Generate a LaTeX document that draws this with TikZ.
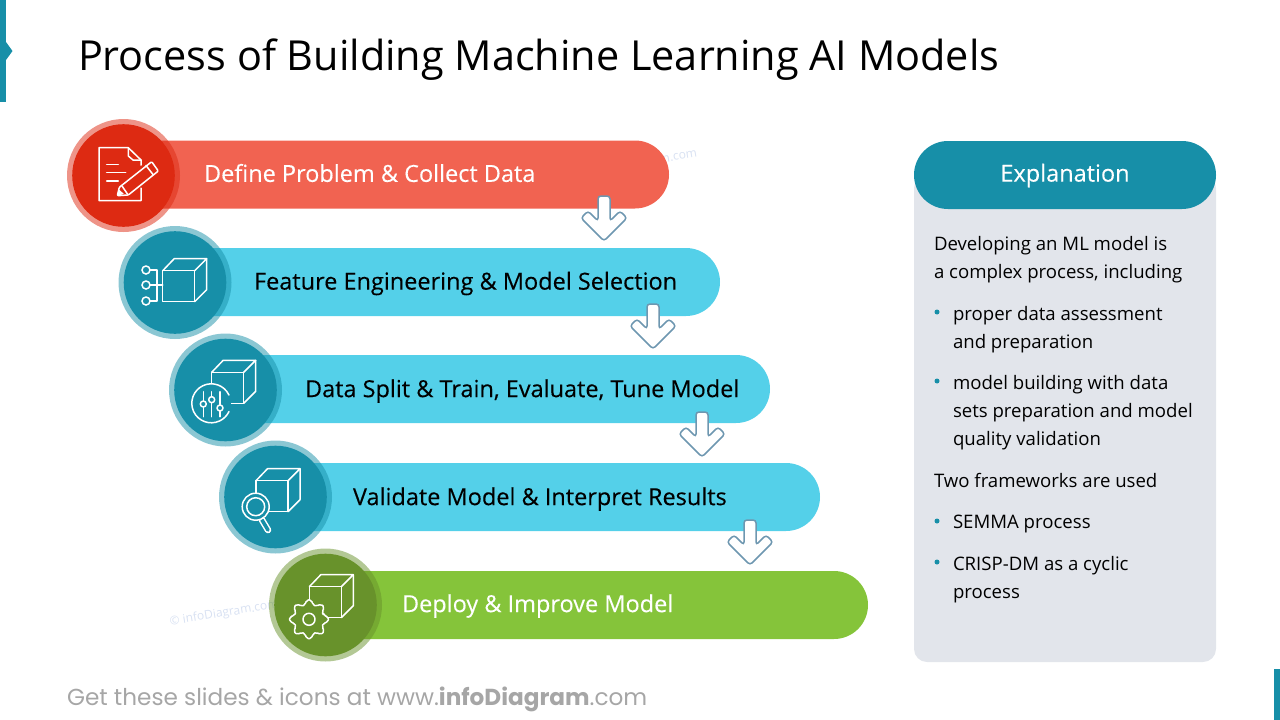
\documentclass[tikz,border=0pt]{standalone}
\usepackage{fontspec}
\setmainfont{Open Sans}
\newfontfamily\footerfont{Poppins}
\newfontfamily\barfont[FakeBold=0.2]{Open Sans}
\usetikzlibrary{positioning, calc}
\definecolor{teal1}{RGB}{23,143,168}
\definecolor{cyan1}{RGB}{84,208,233}
\definecolor{red1}{RGB}{221,42,18}
\definecolor{rose1}{RGB}{241,99,81}
\definecolor{green1}{RGB}{104,146,43}
\definecolor{lime1}{RGB}{133,196,58}
\definecolor{panel1}{RGB}{226,229,235}
\definecolor{steel1}{RGB}{110,151,176}
\definecolor{mark1}{RGB}{216,225,242}
\definecolor{foot1}{RGB}{166,166,166}
\tikzset{
  icon/.style={draw=white, line width=1.5pt, line join=round, line cap=round},
  arrowdown/.pic={
    \draw[draw=steel1, fill=white, line width=1.5pt, rounded corners=3pt]
      (0,0) -- (-23,-23) -- (-16,-30) -- (-6,-20) -- (-6,-45) -- (6,-45)
      -- (6,-20) -- (16,-30) -- (23,-23) -- cycle;
  },
  cube/.pic={
    \draw[icon] (0,0) rectangle (32,31);
    \draw[icon] (0,0) -- (11.5,-12) -- (44,-12) -- (32,0);
    \draw[icon] (44,-12) -- (44,19) -- (32,31);
  },
}

\begin{document}
\begin{tikzpicture}[
    x=1pt, y=-1pt,
    every node/.style={inner sep=0pt, outer sep=0pt},
    barbox/.style={rectangle, rounded corners=34pt, minimum height=68pt},
    barlabel/.style={anchor=west, font=\barfont\fontsize{23.5}{28}\selectfont},
    bodytext/.style={anchor=north west, align=left, font=\fontsize{18.6}{28.4}\selectfont},
    dot/.style={circle, fill=teal1, minimum size=5pt},
    watermark/.style={text=mark1, rotate=9, font=\fontsize{12}{14}\selectfont},
]
\useasboundingbox (0,0) rectangle (1280,720);

% side tabs
\fill[teal1] (0,0) rectangle (6,102);
\fill[teal1] (6,42) -- (12.5,51) -- (6,60) -- cycle;
\fill[teal1] (1274,669) rectangle (1280,720);

\node[anchor=base west, font=\fontsize{41.4}{48}\selectfont] (title) at (78,70)
  {Process of Building Machine Learning AI Models};

% watermarks go under the bars
\node[watermark, anchor=east] (mark1) at (697,154) {© infoDiagram.com};
\node[watermark, anchor=west] (mark2) at (170,622) {© infoDiagram.com};

% bars and discs
\foreach \i/\bx/\by/\bw/\barcol/\dx/\dy/\disccol in {
    1/396/174.5/546/rose1/123.5/175.5/red1,
    2/447.5/282/545/cyan1/175/282.5/teal1,
    3/497.5/389/545/cyan1/225.5/390/teal1,
    4/547.5/497/545/cyan1/275.5/497/teal1,
    5/596.5/605/543/lime1/325.5/605/green1} {
    \node[barbox, fill=\barcol, minimum width=\bw pt, name=bar\i] at (\bx,\by) {};
    \node[circle, fill=\disccol, fill opacity=0.5, minimum size=113pt, name=ring\i] at (\dx,\dy) {};
    \node[circle, fill=\disccol, minimum size=102.6pt, name=disc\i] at (\dx,\dy) {};
}

% arrows between the bars
\foreach \i/\ax/\ay in {1/604/241, 2/653/349, 3/702/457, 4/750/565} {
    \pic at (\ax,\ay) {arrowdown};
}

\node[barlabel, text=white] (label1) at (204,173) {Define Problem \& Collect Data};
\node[barlabel] (label2) at (254,283.5) {Feature Engineering \& Model Selection};
\node[barlabel] (label3) at (305,391) {Data Split \& Train, Evaluate, Tune Model};
\node[barlabel] (label4) at (353,499) {Validate Model \& Interpret Results};
\node[barlabel, text=white] (label5) at (402,606) {Deploy \& Improve Model};

% document icon
\draw[icon] (141,165) -- (141,160) -- (128.3,147.7) -- (99,147.7) -- (99,200.7) -- (141,200.7) -- (141,188);
\draw[icon] (128.3,147.7) -- (128.3,156) -- (133,160) -- (141,160);
\draw[icon] (106.7,164.3) -- (118.3,164.3);
\draw[icon] (106.7,172.7) -- (125.7,172.7);
\draw[icon] (106.7,181) -- (118.3,181);
\draw[icon, fill=red1, rounded corners=1pt] (117.3,195.7) -- (119.3,187.3) -- (151.7,161.7) -- (158.3,171) -- (128.3,195) -- cycle;
\draw[icon] (146,165.5) -- (153,174.5);
\draw[icon] (122,186) -- (127.5,194);
\fill[white] (117.3,195.7) -- (119,189.5) -- (124,194) -- cycle;

% network icon
\pic at (162.7,270.7) {cube};
\foreach \j/\ny in {1/270, 2/285, 3/301} {
    \node[circle, draw=white, line width=1.5pt, minimum size=8pt, name=port\j] at (146,\ny) {};
}
\draw[icon] (port1) -- (157,270) -- (157,301) -- (port3);
\draw[icon] (port2) -- (162.7,285);

% dial icon
\pic at (211.7,372.3) {cube};
\fill[teal1] (211.3,403.3) circle (19.5);
\draw[icon] (211.3,403.3) ++(-25:19.5) arc (-25:-335:19.5);
\foreach \j/\sx/\sy in {1/203.3/404, 2/211.7/399.7, 3/220/408} {
    \draw[icon] (\sx,391.7) -- (\sx,416.7);
    \draw[icon, fill=teal1] (\sx,\sy) circle (3);
}

% magnifier icon
\pic at (256,480.7) {cube};
\draw[icon, double=teal1, double distance=3.6pt] (262,520) -- (268,530);
\draw[icon, fill=teal1] (255.7,506.7) circle (13.5);
\draw[icon] (255.7,506.7) circle (9);

% gear icon
\pic at (309.3,586.7) {cube};
\draw[icon, fill=green1, rounded corners=2pt] (309,619.3) ++(-14:15)
  \foreach \a in {0,45,...,315} {
    -- ($(309,619.3)+(\a-14:15)$) -- ($(309,619.3)+(\a-8:19.5)$) -- ($(309,619.3)+(\a+8:19.5)$) -- ($(309,619.3)+(\a+14:15)$)
  } -- cycle;
\draw[icon] (309,619.3) circle (6);

% explanation panel
\fill[panel1, rounded corners=13pt] (914,175) rectangle (1216,662);
\node[rectangle, fill=teal1, rounded corners=34pt, minimum width=302pt, minimum height=68pt] (head) at (1065,175) {};
\node[text=white, font=\barfont\fontsize{23.5}{28}\selectfont, yshift=-0.5pt] (headtext) at (head) {Explanation};

\node[bodytext] (para1) at (934,236) {Developing an ML model is\\a complex process, including};
\node[dot] (dot1) at (937,312) {};
\node[bodytext] (para2) at (953,306) {proper data assessment\\and preparation};
\node[dot] (dot2) at (937,381) {};
\node[bodytext] (para3) at (953,375) {model building with data\\sets preparation and model\\quality validation};
\node[bodytext] (para4) at (934,473) {Two frameworks are used};
\node[dot] (dot3) at (937,521) {};
\node[bodytext] (para5) at (953,515.5) {SEMMA process};
\node[dot] (dot4) at (937,562) {};
\node[bodytext] (para6) at (953,556) {CRISP-DM as a cyclic\\process};

\node[anchor=base west, text=foot1, font=\footerfont\fontsize{23.15}{27}\selectfont] (foot) at (67,705)
  {Get these slides \& icons at www.\textbf{infoDiagram}.com};
\end{tikzpicture}
\end{document}
